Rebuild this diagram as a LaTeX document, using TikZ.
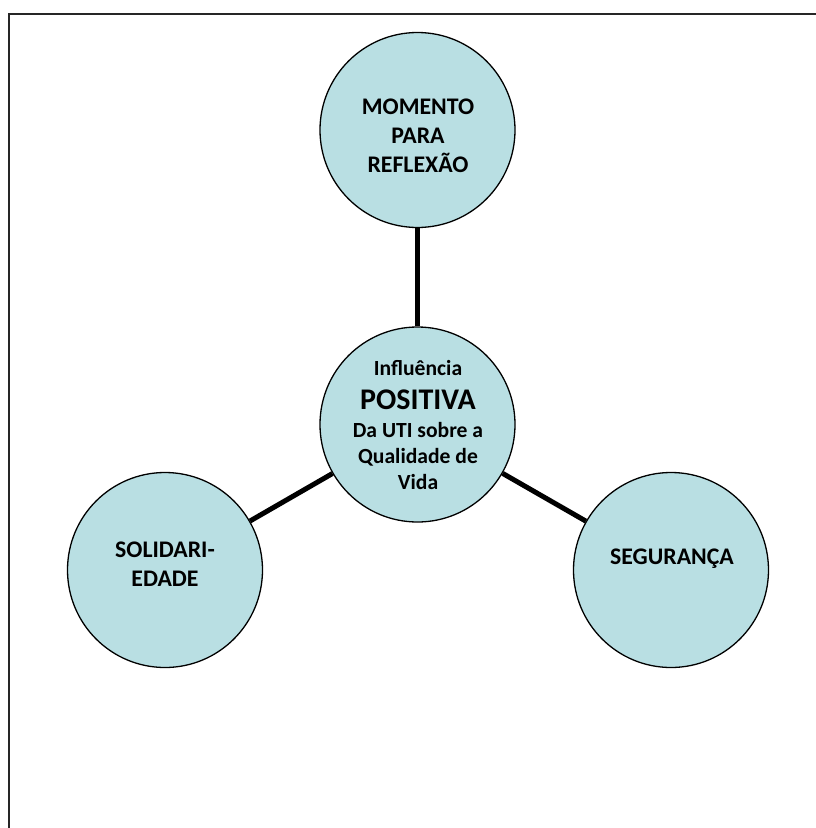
\documentclass[tikz,border=0pt]{standalone}
\usepackage{fontspec}
\setmainfont{Carlito}
\definecolor{aqua}{HTML}{B9DFE3}
\begin{document}
\begin{tikzpicture}[x=1pt,y=-1pt,
  bubble/.style={circle, draw=black, line width=1.3pt, fill=aqua, minimum size=195pt, inner sep=0pt},
  link/.style={line width=5pt, draw=black},
  lbl/.style={font=\bfseries\fontsize{23.8}{29}\selectfont, align=center, text=black, inner sep=0pt},
  ctr/.style={font=\bfseries\fontsize{21.6}{26}\selectfont, align=center, text=black, inner sep=0pt}]
\useasboundingbox (0,0) rectangle (815,828);
\draw[line width=2pt, color=black!85] (9,830) -- (9,14) -- (817,14);
\node[bubble] (c) at (417.5,424.5) {};
\node[bubble] (t) at (417.5,130) {};
\node[bubble] (l) at (165,570) {};
\node[bubble] (r) at (671,570) {};
\draw[link] (c) -- (t);
\draw[link] (c) -- (l);
\draw[link] (c) -- (r);
\node[lbl] (tt) at (418,135.5) {MOMENTO\\PARA\\REFLEXÃO};
\node[ctr] (ct) at (418,425) {Influência\\[8pt]{\fontsize{30}{32}\selectfont POSITIVA}\\[2pt]Da UTI sobre a\\Qualidade de\\Vida};
\node[lbl] (lt) at (165,564.3) {SOLIDARI-\\EDADE};
\node[lbl] (rt) at (672,558.7) {SEGURANÇA};
\end{tikzpicture}
\end{document}
